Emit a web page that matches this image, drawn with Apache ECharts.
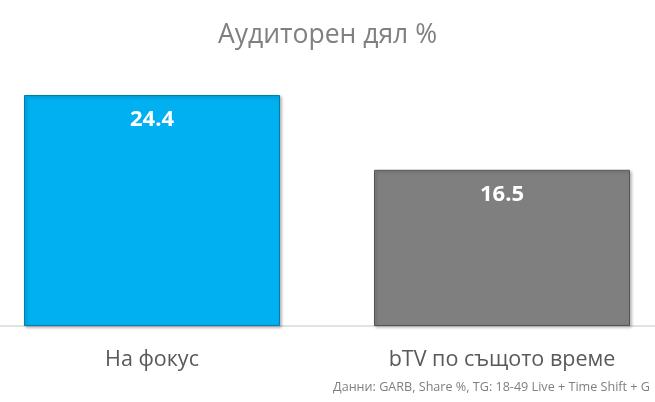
<!DOCTYPE html>
<html>
<head>
<meta charset="utf-8">
<style>
html,body{margin:0;padding:0;background:#fff;}
#chart{width:655px;height:402px;}
</style>
<script src="https://cdn.jsdelivr.net/npm/echarts@6/dist/echarts.min.js"></script>
</head>
<body>
<div id="chart"></div>
<script>
const titleText = 'Аудиторен дял %';
const categories = ['На фокус', 'bTV по същото време'];
const values = [24.4, 16.5];
const barColors = ['#00B0F0', '#7F7F7F'];
const borderColors = ['#007FAE', '#555555'];
const footnote = 'Данни: GARB, Share %, TG: 18-49 Live + Time Shift + G';

const chart = echarts.init(document.getElementById('chart'));
chart.setOption({
  animation: false,
  backgroundColor: '#ffffff',
  title: [{
    text: titleText,
    left: 'center',
    top: 17,
    textStyle: {fontFamily: 'Open Sans', fontSize: 26.5, fontWeight: 'normal', color: '#808080'}
  }, {
    text: footnote,
    right: 0,
    top: 376,
    textStyle: {fontFamily: 'Open Sans', fontSize: 12.6, fontWeight: 'normal', color: '#7F7F7F'}
  }],
  grid: {left: -23, right: -22, top: 42, bottom: 76, containLabel: false, outerBoundsMode: 'none'},
  xAxis: {
    type: 'category',
    data: categories,
    axisLine: {show: true, lineStyle: {color: '#D9D9D9', width: 1.5}},
    axisTick: {show: false},
    axisLabel: {fontFamily: 'Open Sans', fontSize: 21.5, color: '#595959', margin: 23}
  },
  yAxis: {
    type: 'value',
    min: 0, max: 30,
    show: false,
    splitLine: {show: false}
  },
  series: [{
    type: 'bar',
    barWidth: 256,
    data: values.map((v, i) => ({
      value: v,
      itemStyle: {
        color: barColors[i],
        borderColor: borderColors[i],
        borderWidth: 1,
        shadowColor: 'rgba(0,0,0,0.3)',
        shadowBlur: 3,
        shadowOffsetX: 1.5,
        shadowOffsetY: 1.5
      }
    })),
    label: {
      show: true,
      position: 'insideTop',
      distance: 14,
      fontFamily: 'Open Sans',
      fontSize: 22,
      fontWeight: 'bold',
      color: '#ffffff'
    }
  }]
});
</script>
</body>
</html>
